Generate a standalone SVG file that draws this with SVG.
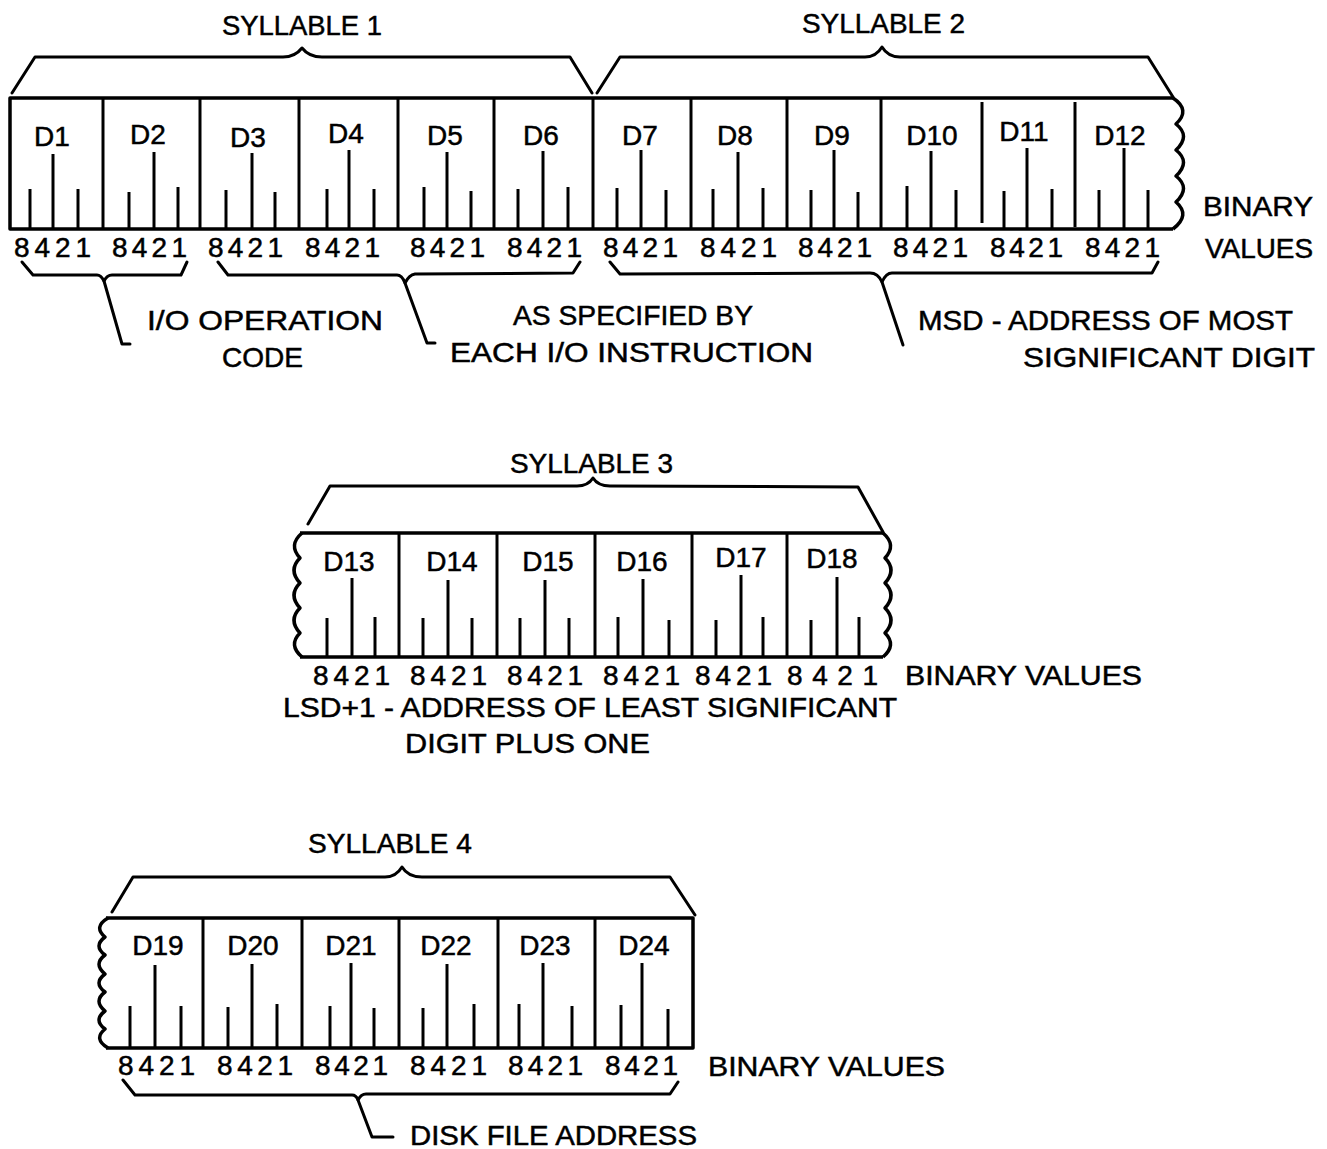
<svg xmlns="http://www.w3.org/2000/svg" width="1327" height="1149" viewBox="0 0 1327 1149">
<style>
text{font-family:"Liberation Sans","DejaVu Sans",Arial,sans-serif;font-size:28px;fill:#000;stroke:#000;stroke-width:0.5}
.lbl{text-anchor:middle}
.b{fill:none;stroke:#000;stroke-width:3;stroke-linejoin:round;stroke-linecap:round}
.t{stroke:#000;stroke-width:3}
.box{fill:none;stroke:#000;stroke-width:3.5;stroke-linejoin:round}
.d{stroke:#000;stroke-width:3}
</style>
<rect width="1327" height="1149" fill="#fff"/>

<!-- ===== Row 1 : Syllables 1 and 2 ===== -->
<g id="word1">
  <path class="box" d="M1173,98 L10,98 L10,229 L1173,229"/>
  <path class="box" d="M1173,98 Q1191,110 1176,124 Q1191,136 1176,150 Q1191,162 1176,176 Q1191,188 1176,202 Q1191,215 1173,229"/>
  <g class="d">
    <line x1="103" y1="98" x2="103" y2="229"/><line x1="200" y1="98" x2="200" y2="229"/>
    <line x1="299" y1="98" x2="299" y2="229"/><line x1="398" y1="98" x2="398" y2="229"/>
    <line x1="494" y1="98" x2="494" y2="229"/><line x1="593" y1="98" x2="593" y2="229"/>
    <line x1="691" y1="98" x2="691" y2="229"/><line x1="787" y1="98" x2="787" y2="229"/>
    <line x1="881" y1="98" x2="881" y2="229"/><line x1="982" y1="102" x2="982" y2="223"/>
    <line x1="1075" y1="102" x2="1075" y2="227"/>
  </g>
  <g class="t">
    <line x1="30" y1="189" x2="30" y2="229"/><line x1="53" y1="154" x2="53" y2="229"/><line x1="78" y1="189" x2="78" y2="229"/>
    <line x1="129" y1="192" x2="129" y2="229"/><line x1="154" y1="152" x2="154" y2="229"/><line x1="178" y1="187" x2="178" y2="229"/>
    <line x1="226" y1="190" x2="226" y2="229"/><line x1="252" y1="153" x2="252" y2="229"/><line x1="275" y1="192" x2="275" y2="229"/>
    <line x1="327" y1="189" x2="327" y2="229"/><line x1="349" y1="150" x2="349" y2="229"/><line x1="374" y1="189" x2="374" y2="229"/>
    <line x1="424" y1="187" x2="424" y2="229"/><line x1="447" y1="152" x2="447" y2="229"/><line x1="471" y1="191" x2="471" y2="229"/>
    <line x1="518" y1="189" x2="518" y2="229"/><line x1="543" y1="151" x2="543" y2="229"/><line x1="568" y1="187" x2="568" y2="229"/>
    <line x1="617" y1="188" x2="617" y2="229"/><line x1="641" y1="150" x2="641" y2="229"/><line x1="666" y1="190" x2="666" y2="229"/>
    <line x1="713" y1="189" x2="713" y2="229"/><line x1="738" y1="152" x2="738" y2="229"/><line x1="763" y1="188" x2="763" y2="229"/>
    <line x1="811" y1="190" x2="811" y2="229"/><line x1="834" y1="150" x2="834" y2="229"/><line x1="858" y1="192" x2="858" y2="229"/>
    <line x1="907" y1="186" x2="907" y2="229"/><line x1="931" y1="151" x2="931" y2="229"/><line x1="956" y1="190" x2="956" y2="229"/>
    <line x1="1004" y1="191" x2="1004" y2="229"/><line x1="1027" y1="148" x2="1027" y2="229"/><line x1="1052" y1="189" x2="1052" y2="229"/>
    <line x1="1099" y1="190" x2="1099" y2="229"/><line x1="1124" y1="148" x2="1124" y2="229"/><line x1="1148" y1="190" x2="1148" y2="229"/>
  </g>
  <g class="lbl">
    <text x="52" y="146">D1</text><text x="148" y="144">D2</text><text x="248" y="147">D3</text>
    <text x="346" y="143">D4</text><text x="445" y="145">D5</text><text x="541" y="145">D6</text>
    <text x="640" y="145">D7</text><text x="735" y="145">D8</text><text x="832" y="145">D9</text>
    <text x="932" y="145">D10</text><text x="1024" y="141">D11</text><text x="1120" y="145">D12</text>
  </g>
  <g>
    <text x="14" y="257" textLength="77" lengthAdjust="spacing">8421</text>
    <text x="112" y="257" textLength="75" lengthAdjust="spacing">8421</text>
    <text x="208" y="257" textLength="75" lengthAdjust="spacing">8421</text>
    <text x="305" y="257" textLength="75" lengthAdjust="spacing">8421</text>
    <text x="410" y="257" textLength="75" lengthAdjust="spacing">8421</text>
    <text x="507" y="257" textLength="75" lengthAdjust="spacing">8421</text>
    <text x="603" y="257" textLength="75" lengthAdjust="spacing">8421</text>
    <text x="700" y="257" textLength="77" lengthAdjust="spacing">8421</text>
    <text x="798" y="257" textLength="74" lengthAdjust="spacing">8421</text>
    <text x="893" y="257" textLength="75" lengthAdjust="spacing">8421</text>
    <text x="990" y="257" textLength="73" lengthAdjust="spacing">8421</text>
    <text x="1085" y="257" textLength="75" lengthAdjust="spacing">8421</text>
  </g>
  <text x="222" y="35" textLength="160" lengthAdjust="spacingAndGlyphs">SYLLABLE 1</text>
  <text x="802" y="33" textLength="163" lengthAdjust="spacingAndGlyphs">SYLLABLE 2</text>
  <text x="1203" y="216" textLength="110" lengthAdjust="spacingAndGlyphs">BINARY</text>
  <text x="1205" y="258" textLength="108" lengthAdjust="spacingAndGlyphs">VALUES</text>
  <text x="147" y="330" textLength="236" lengthAdjust="spacingAndGlyphs">I/O OPERATION</text>
  <text x="222" y="367" textLength="81" lengthAdjust="spacingAndGlyphs">CODE</text>
  <text x="513" y="325" textLength="240" lengthAdjust="spacingAndGlyphs">AS SPECIFIED BY</text>
  <text x="450" y="362" textLength="363" lengthAdjust="spacingAndGlyphs">EACH I/O INSTRUCTION</text>
  <text x="918" y="330" textLength="375" lengthAdjust="spacingAndGlyphs">MSD - ADDRESS OF MOST</text>
  <text x="1023" y="367" textLength="292" lengthAdjust="spacingAndGlyphs">SIGNIFICANT DIGIT</text>
</g>

<!-- ===== Row 2 : Syllable 3 ===== -->
<g id="word2">
  <line class="box" x1="300" y1="533" x2="883" y2="533"/>
  <line class="box" x1="300" y1="657" x2="883" y2="657"/>
  <path class="box" d="M302,533 Q288,545 300,558 Q288,570 300,583 Q288,595 300,608 Q288,620 300,633 Q288,645 302,657"/>
  <path class="box" d="M883,533 Q897,545 885,558 Q897,570 885,583 Q897,595 885,608 Q897,620 885,633 Q897,645 883,657"/>
  <g class="d">
    <line x1="399" y1="533" x2="399" y2="657"/><line x1="497" y1="533" x2="497" y2="657"/>
    <line x1="595" y1="533" x2="595" y2="657"/><line x1="692" y1="533" x2="692" y2="657"/>
    <line x1="787" y1="533" x2="787" y2="657"/>
  </g>
  <g class="t">
    <line x1="327" y1="618" x2="327" y2="657"/><line x1="352" y1="578" x2="352" y2="657"/><line x1="375" y1="617" x2="375" y2="657"/>
    <line x1="423" y1="618" x2="423" y2="657"/><line x1="448" y1="580" x2="448" y2="657"/><line x1="472" y1="618" x2="472" y2="657"/>
    <line x1="520" y1="618" x2="520" y2="657"/><line x1="545" y1="580" x2="545" y2="657"/><line x1="569" y1="618" x2="569" y2="657"/>
    <line x1="618" y1="617" x2="618" y2="657"/><line x1="643" y1="579" x2="643" y2="657"/><line x1="669" y1="620" x2="669" y2="657"/>
    <line x1="716" y1="620" x2="716" y2="657"/><line x1="741" y1="575" x2="741" y2="657"/><line x1="763" y1="617" x2="763" y2="657"/>
    <line x1="811" y1="620" x2="811" y2="657"/><line x1="837" y1="577" x2="837" y2="657"/><line x1="859" y1="617" x2="859" y2="657"/>
  </g>
  <g class="lbl">
    <text x="349" y="571">D13</text><text x="452" y="571">D14</text><text x="548" y="571">D15</text>
    <text x="642" y="571">D16</text><text x="741" y="567">D17</text><text x="832" y="568">D18</text>
  </g>
  <g>
    <text x="313" y="685" textLength="77" lengthAdjust="spacing">8421</text>
    <text x="410" y="685" textLength="77" lengthAdjust="spacing">8421</text>
    <text x="507" y="685" textLength="76" lengthAdjust="spacing">8421</text>
    <text x="603" y="685" textLength="77" lengthAdjust="spacing">8421</text>
    <text x="695" y="685" textLength="77" lengthAdjust="spacing">8421</text>
    <text x="787" y="685" textLength="91" lengthAdjust="spacing">8421</text>
  </g>
  <text x="510" y="473" textLength="163" lengthAdjust="spacingAndGlyphs">SYLLABLE 3</text>
  <text x="905" y="685" textLength="237" lengthAdjust="spacingAndGlyphs">BINARY VALUES</text>
  <text x="283" y="717" textLength="614" lengthAdjust="spacingAndGlyphs">LSD+1 - ADDRESS OF LEAST SIGNIFICANT</text>
  <text x="405" y="753" textLength="245" lengthAdjust="spacingAndGlyphs">DIGIT PLUS ONE</text>
</g>

<!-- ===== Row 3 : Syllable 4 ===== -->
<g id="word3">
  <path class="box" d="M106,918 L693,918 L693,1048 L106,1048"/>
  <path class="box" d="M108,918 Q93,927 105,937 Q93,946 105,955 Q93,964 105,974 Q93,983 105,992 Q93,1001 105,1011 Q93,1020 105,1029 Q93,1039 108,1048"/>
  <g class="d">
    <line x1="203" y1="918" x2="203" y2="1048"/><line x1="302" y1="918" x2="302" y2="1048"/>
    <line x1="399" y1="918" x2="399" y2="1048"/><line x1="498" y1="918" x2="498" y2="1048"/>
    <line x1="595" y1="918" x2="595" y2="1048"/>
  </g>
  <g class="t">
    <line x1="130" y1="1006" x2="130" y2="1048"/><line x1="155" y1="965" x2="155" y2="1048"/><line x1="181" y1="1006" x2="181" y2="1048"/>
    <line x1="228" y1="1007" x2="228" y2="1048"/><line x1="252" y1="964" x2="252" y2="1048"/><line x1="277" y1="1004" x2="277" y2="1048"/>
    <line x1="330" y1="1006" x2="330" y2="1048"/><line x1="351" y1="963" x2="351" y2="1048"/><line x1="374" y1="1008" x2="374" y2="1048"/>
    <line x1="423" y1="1008" x2="423" y2="1048"/><line x1="447" y1="964" x2="447" y2="1048"/><line x1="474" y1="1004" x2="474" y2="1048"/>
    <line x1="519" y1="1004" x2="519" y2="1048"/><line x1="543" y1="963" x2="543" y2="1048"/><line x1="572" y1="1006" x2="572" y2="1048"/>
    <line x1="621" y1="1005" x2="621" y2="1048"/><line x1="642" y1="963" x2="642" y2="1048"/><line x1="668" y1="1009" x2="668" y2="1048"/>
  </g>
  <g class="lbl">
    <text x="158" y="955">D19</text><text x="253" y="955">D20</text><text x="351" y="955">D21</text>
    <text x="446" y="955">D22</text><text x="545" y="955">D23</text><text x="644" y="955">D24</text>
  </g>
  <g>
    <text x="118" y="1075" textLength="77" lengthAdjust="spacing">8421</text>
    <text x="217" y="1075" textLength="76" lengthAdjust="spacing">8421</text>
    <text x="315" y="1075" textLength="73" lengthAdjust="spacing">8421</text>
    <text x="410" y="1075" textLength="77" lengthAdjust="spacing">8421</text>
    <text x="508" y="1075" textLength="75" lengthAdjust="spacing">8421</text>
    <text x="605" y="1075" textLength="73" lengthAdjust="spacing">8421</text>
  </g>
  <text x="308" y="853" textLength="164" lengthAdjust="spacingAndGlyphs">SYLLABLE 4</text>
  <text x="708" y="1076" textLength="237" lengthAdjust="spacingAndGlyphs">BINARY VALUES</text>
  <text x="410" y="1145" textLength="287" lengthAdjust="spacingAndGlyphs">DISK FILE ADDRESS</text>
</g>

<!-- ===== Braces (connectors) ===== -->
<g id="connectors" class="b">
  <path d="M12,93 L35,57 L283,57 Q295,57 302,48 Q309,57 322,57 L570,57 L592,93"/>
  <path d="M597,93 L620,57 L865,57 Q876,57 882,47 Q888,57 900,57 L1148,57 L1173,97"/>
  <path d="M308,524 L330,486 L577,486 Q588,486 593,478 Q598,486 610,486 L858,487 L883,532"/>
  <path d="M112,912 L133,877 L385,877 Q396,877 402,867 Q408,877 422,877 L670,877 L695,915"/>
  <path d="M22,262 L33,275 L97,275 Q101,275 104,281 Q107,275 112,275 L181,275 L187,262"/>
  <path d="M104,281 L122,344 L130,344"/>
  <path d="M218,262 L228,275 L397,275 Q402,275 405,283 Q409,275 415,274 L573,273 L580,262"/>
  <path d="M405,283 L427,343 L435,343"/>
  <path d="M610,262 L620,274 L870,273 Q878,273 882,282 Q886,273 892,273 L1152,273 L1158,262"/>
  <path d="M882,282 L903,345"/>
  <path d="M123,1080 L135,1095 L352,1095 Q356,1095 358,1100 Q361,1094 366,1094 L670,1094 L678,1082"/>
  <path d="M358,1100 L372,1137 L393,1137"/>
</g>
</svg>
